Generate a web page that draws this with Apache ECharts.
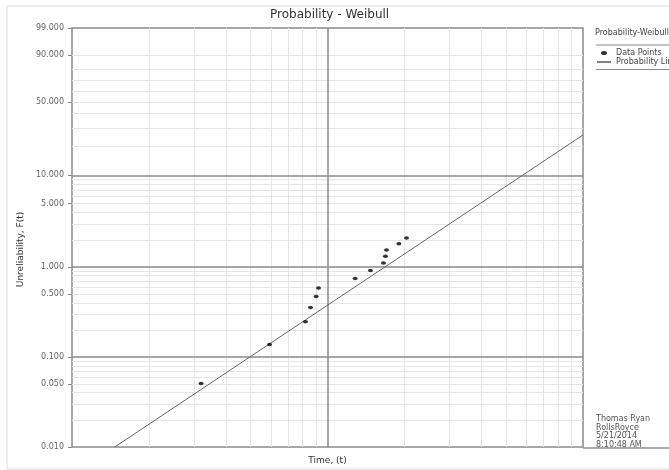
<!DOCTYPE html>
<html>
<head>
<meta charset="utf-8">
<script src="https://cdn.jsdelivr.net/npm/echarts@6/dist/echarts.min.js"></script>
<style>html,body{margin:0;padding:0;background:#fff;}#c{width:669px;height:470px;}</style>
</head>
<body>
<div id="c"></div>
<script>
// ---- data (percent unreliability vs time) ----
const pointTime = [32.0, 59.3, 82.0, 85.8, 90.3, 92.2, 128.3, 147.3, 165.6, 168.6, 170.2, 190.3, 203.8];
const pointPct  = [0.051, 0.138, 0.247, 0.356, 0.471, 0.588, 0.746, 0.915, 1.113, 1.316, 1.549, 1.816, 2.099];
const lineTime  = [14.7, 1000];
const linePct   = [0.01, 25.7];
const yTickPct  = [0.01, 0.05, 0.1, 0.5, 1, 5, 10, 50, 90, 99];
const yMajorPct = [0.1, 1, 10];
const yMinorPct = [0.02,0.03,0.04,0.05,0.06,0.07,0.08,0.09, 0.2,0.3,0.4,0.5,0.6,0.7,0.8,0.9,
                   2,3,4,5,6,7,8,9, 20,30,40,50,60,70,80,90];
const xMajor    = [100];
const xMinor    = [20,30,40,50,60,70,80,90, 200,300,400,500,600,700,800,900];
const xRange    = [10, 1000];

// Weibull probability transform
const wb = p => Math.log(-Math.log(1 - p / 100));
const unwb = v => 100 * (1 - Math.exp(-Math.exp(v)));

const chart = echarts.init(document.getElementById('c'), null, {renderer: 'canvas'});
const FONT = 'DejaVu Sans';
const minorStyle = {color: '#e6e6e6', width: 1, type: 'solid'};
const majorStyle = {color: '#8a8a8a', width: 1.5, type: 'solid'};

const gridLines = []
  .concat(yMinorPct.map(p => ({yAxis: wb(p), lineStyle: minorStyle})))
  .concat(xMinor.map(t => ({xAxis: t, lineStyle: minorStyle})))
  .concat(yMajorPct.map(p => ({yAxis: wb(p), lineStyle: majorStyle})))
  .concat(xMajor.map(t => ({xAxis: t, lineStyle: majorStyle})));

chart.setOption({
  animation: false,
  textStyle: {fontFamily: FONT},
  title: [{
    text: 'Probability - Weibull',
    left: 265, top: 4,
    textStyle: {fontSize: 12, fontWeight: 'normal', color: '#333', fontFamily: FONT}
  }, {
    text: 'Probability-Weibull',
    left: 595, top: 29, padding: 0,
    textStyle: {fontSize: 8, fontWeight: 'normal', color: '#444', fontFamily: FONT}
  }],
  legend: {
    orient: 'vertical', left: 597, top: 49, padding: 0,
    itemGap: 1, itemWidth: 14, itemHeight: 4,
    textStyle: {fontSize: 8, color: '#444', fontFamily: FONT, lineHeight: 8},
    data: [
      {name: 'Data Points', icon: 'path://M0,2A3,2,0,1,0,6,2A3,2,0,1,0,0,2Z'},
      {name: 'Probability Line', icon: 'path://M0,0L14,0L14,1.2L0,1.2Z', itemStyle: {color: '#333'}}
    ]
  },
  grid: {left: 72, right: 86, top: 28, bottom: 22, show: true, borderColor: '#8a8a8a', borderWidth: 1.5, backgroundColor: 'transparent'},
  xAxis: {
    type: 'log', logBase: 10, min: xRange[0], max: xRange[1],
    name: 'Time, (t)', nameLocation: 'middle', nameGap: 9,
    nameTextStyle: {fontSize: 9, color: '#333', fontFamily: FONT},
    axisLine: {show: false}, axisTick: {show: false}, axisLabel: {show: false}, splitLine: {show: false}
  },
  yAxis: {
    type: 'value', min: wb(yTickPct[0]), max: wb(yTickPct[yTickPct.length - 1]),
    name: 'Unreliability, F(t)', nameLocation: 'middle', nameGap: 41,
    nameTextStyle: {fontSize: 9, color: '#333', fontFamily: FONT, padding: [0, 24, 0, 0]},
    axisLine: {show: false},
    axisTick: {show: true, length: 4, lineStyle: {color: '#8a8a8a'}, customValues: yTickPct.map(wb)},
    axisLabel: {
      show: true, margin: 8, fontSize: 8, color: '#666', fontFamily: FONT,
      customValues: yTickPct.map(wb),
      formatter: v => unwb(v).toFixed(3)
    },
    splitLine: {show: false}
  },
  graphic: [
    {type: 'rect', shape: {x: 7, y: 6, width: 700, height: 463}, style: {fill: 'none', stroke: '#dcdcdc', lineWidth: 1}, silent: true},
    {type: 'line', shape: {x1: 596, y1: 45, x2: 669, y2: 45}, style: {stroke: '#8a8a8a', lineWidth: 1}, silent: true},
    {type: 'line', shape: {x1: 596, y1: 69.5, x2: 669, y2: 69.5}, style: {stroke: '#8a8a8a', lineWidth: 1}, silent: true},
    {type: 'line', shape: {x1: 583, y1: 448, x2: 669, y2: 448}, style: {stroke: '#8a8a8a', lineWidth: 1.5}, silent: true},
    {type: 'text', left: 596, top: 415, silent: true,
     style: {text: 'Thomas Ryan\nRollsRoyce\n5/21/2014\n8:10:48 AM', fontSize: 8, lineHeight: 8.5, fill: '#555', fontFamily: FONT}}
  ],
  series: [
    {
      name: 'Probability Line', type: 'line', symbol: 'none', z: 3,
      lineStyle: {color: '#666', width: 1},
      itemStyle: {color: '#555'},
      data: lineTime.map((t, i) => [t, wb(linePct[i])]),
      markLine: {silent: true, symbol: ['none', 'none'], z: 1, label: {show: false}, animation: false, data: gridLines}
    },
    {
      name: 'Data Points', type: 'scatter', z: 4,
      symbol: 'circle', symbolSize: [5, 3.5],
      itemStyle: {color: '#000'},
      data: pointTime.map((t, i) => [t, wb(pointPct[i])])
    }
  ]
});
</script>
</body>
</html>
